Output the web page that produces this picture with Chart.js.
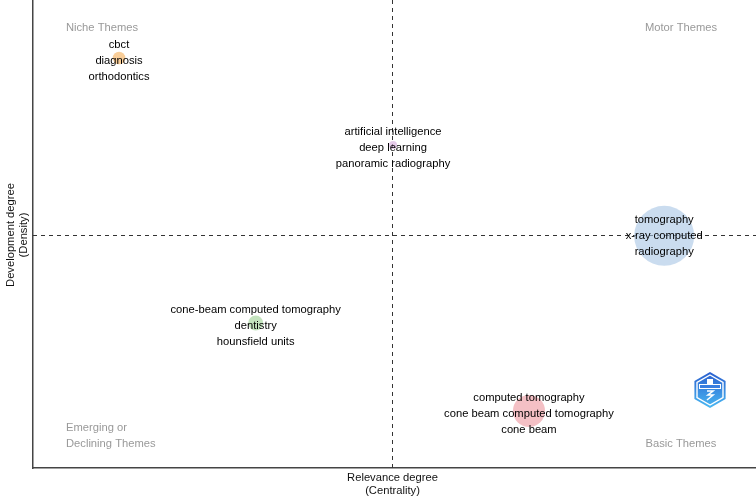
<!DOCTYPE html>
<html>
<head>
<meta charset="utf-8">
<script src="https://cdn.jsdelivr.net/npm/chart.js@4"></script>
<style>
html,body{margin:0;padding:0;background:#fff;}
canvas{display:block;}
</style>
</head>
<body>
<canvas id="c" width="756" height="502"></canvas>
<script>
// Thematic map data
const clusterNames = ["orthodontics", "artificial intelligence", "tomography", "cone-beam computed tomography", "computed tomography"];
const centrality = [1.19, 4.98, 8.73, 3.08, 6.86];
const density    = [8.76, 6.90, 4.96, 3.10, 1.22];
const frequency  = [40, 16, 900, 56, 256];
const clusterLabels = [
  ["cbct", "diagnosis", "orthodontics"],
  ["artificial intelligence", "deep learning", "panoramic radiography"],
  ["tomography", "x-ray computed", "radiography"],
  ["cone-beam computed tomography", "dentistry", "hounsfield units"],
  ["computed tomography", "cone beam computed tomography", "cone beam"]
];
const clusterColors = [
  "rgba(246,185,110,0.7)",
  "rgba(214,170,220,0.6)",
  "rgba(166,196,228,0.6)",
  "rgba(165,212,155,0.65)",
  "rgba(236,150,158,0.6)"
];
const quadrantNames = ["Niche Themes", "Motor Themes", "Emerging or\nDeclining Themes", "Basic Themes"];
const xTitle = ["Relevance degree", "(Centrality)"];
const yTitle = ["Development degree", "(Density)"];

const mean = a => a.reduce((s, v) => s + v, 0) / a.length;
const FONT = '11.2px "Liberation Sans", Arial, sans-serif';

const overlay = {
  id: 'overlay',
  beforeDatasetsDraw(chart) {
    const {ctx, chartArea: ca, scales: {x, y}} = chart;
    const mx = x.getPixelForValue(mean(centrality));
    const my = y.getPixelForValue(mean(density));
    ctx.save();
    ctx.strokeStyle = '#333';
    ctx.lineWidth = 1;
    ctx.setLineDash([4, 4]);
    ctx.beginPath();
    ctx.moveTo(Math.round(mx) + 0.5, ca.top);
    ctx.lineTo(Math.round(mx) + 0.5, ca.bottom);
    ctx.moveTo(ca.left, Math.round(my) + 0.5);
    ctx.lineTo(ca.right, Math.round(my) + 0.5);
    ctx.stroke();
    ctx.restore();
  },
  afterDatasetsDraw(chart) {
    const {ctx, chartArea: ca} = chart;
    const meta = chart.getDatasetMeta(0);
    ctx.save();
    ctx.font = FONT;
    ctx.textAlign = 'center';
    ctx.textBaseline = 'middle';
    ctx.fillStyle = '#000';
    meta.data.forEach((el, i) => {
      const lines = clusterLabels[i];
      const off = i === 2 ? 0 : 3;
      lines.forEach((t, j) => {
        ctx.fillText(t, el.x, el.y + off + (j - 1) * 16);
      });
    });
    // quadrant names
    ctx.fillStyle = '#999';
    ctx.fillText(quadrantNames[0], ca.left + 69, 28);
    ctx.fillText(quadrantNames[1], ca.right - 75, 28);
    ctx.fillText(quadrantNames[3], ca.right - 75, 444);
    ctx.textAlign = 'left';
    const em = quadrantNames[2].split('\n');
    ctx.fillText(em[0], ca.left + 33, 428);
    ctx.fillText(em[1], ca.left + 33, 444);
    // axis titles
    ctx.fillStyle = '#111';
    ctx.textAlign = 'center';
    const cx = (ca.left + ca.right) / 2 - 2;
    ctx.fillText(xTitle[0], cx, 478);
    ctx.fillText(xTitle[1], cx, 491);
    ctx.save();
    ctx.translate(11, (ca.top + ca.bottom) / 2 + 1);
    ctx.rotate(-Math.PI / 2);
    ctx.fillText(yTitle[0], 0, 0);
    ctx.fillText(yTitle[1], 0, 13);
    ctx.restore();
    // logo (hexagon badge)
    const lx = 710, ly = 390, R = 18;
    const hex = (r) => {
      ctx.beginPath();
      for (let k = 0; k < 6; k++) {
        const a = k * Math.PI / 3 - Math.PI / 2;
        const px = lx + r * Math.cos(a), py = ly + r * Math.sin(a);
        k ? ctx.lineTo(px, py) : ctx.moveTo(px, py);
      }
      ctx.closePath();
    };
    const g = ctx.createLinearGradient(0, ly - R, 0, ly + R);
    g.addColorStop(0, '#2a5fcf');
    g.addColorStop(1, '#4ab8f2');
    hex(R); ctx.fillStyle = g; ctx.fill();
    hex(R - 3); ctx.strokeStyle = '#fff'; ctx.lineWidth = 1.4; ctx.stroke();
    ctx.fillStyle = '#fff';
    ctx.fillRect(lx - 11, ly - 6, 22, 5);
    ctx.fillStyle = '#3a7fe0';
    ctx.fillRect(lx - 10, ly - 5, 20, 3);
    ctx.fillStyle = '#fff';
    ctx.fillRect(lx - 3, ly - 11, 6, 5);
    ctx.strokeStyle = '#fff';
    ctx.lineWidth = 1.6;
    ctx.beginPath();
    ctx.moveTo(lx - 3, ly + 1); ctx.lineTo(lx + 3, ly + 1);
    ctx.lineTo(lx - 2, ly + 5); ctx.lineTo(lx + 3, ly + 5);
    ctx.lineTo(lx - 3, ly + 10);
    ctx.stroke();
    ctx.restore();
  }
};

new Chart(document.getElementById('c'), {
  type: 'bubble',
  data: {
    datasets: [{
      data: centrality.map((v, i) => ({x: v, y: density[i], r: Math.sqrt(frequency[i])})),
      backgroundColor: clusterColors,
      borderWidth: 0,
      hoverBorderWidth: 0
    }]
  },
  options: {
    responsive: false,
    animation: false,
    devicePixelRatio: 1,
    layout: {autoPadding: false, padding: {left: 33, top: 0, right: 0, bottom: 34}},
    plugins: {legend: {display: false}, tooltip: {enabled: false}},
    events: [],
    scales: {
      x: {
        type: 'linear', min: 0, max: 10,
        ticks: {display: false},
        grid: {display: false, drawTicks: false},
        border: {display: true, color: '#444', width: 1.5},
        title: {display: false}
      },
      y: {
        type: 'linear', min: 0, max: 10,
        ticks: {display: false},
        grid: {display: false, drawTicks: false},
        border: {display: true, color: '#444', width: 1.5},
        title: {display: false}
      }
    }
  },
  plugins: [overlay]
});
</script>
</body>
</html>
